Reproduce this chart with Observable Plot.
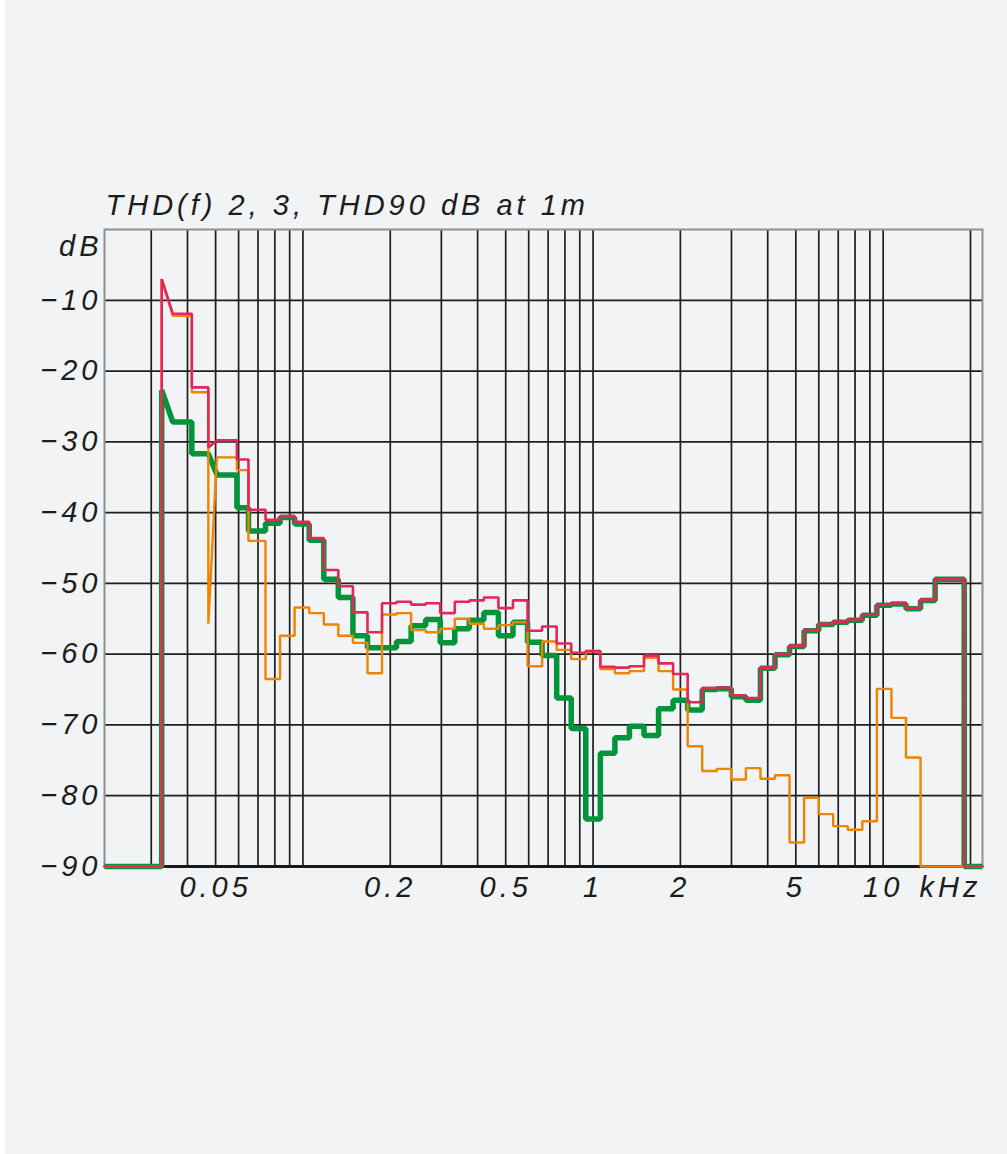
<!DOCTYPE html>
<html><head><meta charset="utf-8">
<script src="https://cdn.jsdelivr.net/npm/d3@7"></script>
<script src="https://cdn.jsdelivr.net/npm/@observablehq/plot@0.6"></script>
<style>
html,body{margin:0;padding:0;background:#ffffff;}
#chart{position:absolute;left:5px;top:0;width:1002px;height:1154px;background:#f2f3f5;overflow:hidden;}
</style></head><body><div id="chart"></div>
<script>
// band edges in kHz (1/6-octave above ~60 Hz, measured below)
const edges = [0.0326, 0.0356, 0.0414, 0.0472, 0.0505, 0.0592, 0.0649, 0.0743, 0.0834, 0.0936,
  0.1051, 0.1180, 0.1324, 0.1487, 0.1669, 0.1873, 0.2102, 0.2360, 0.2649, 0.2973,
  0.3337, 0.3746, 0.4204, 0.4719, 0.5297, 0.5946, 0.6674, 0.7492, 0.8409, 0.9439,
  1.0595, 1.1892, 1.3348, 1.4983, 1.6818, 1.8877, 2.1189, 2.3784, 2.6697, 2.9966,
  3.3636, 3.7755, 4.2379, 4.7568, 5.3394, 5.9932, 6.7272, 7.5510, 8.4757, 9.5137,
  10.679, 11.986, 13.454, 15.102, 16.951, 19.027];

// per-band levels in dB ([start, end] for sloped bands)
const redDb = [[-7.0, -11.9], -11.9, -22.3, [-30.8, -29.8], -29.8, -32.5, -39.6, -41.0, -40.5, -41.3,
  -43.6, -48.1, -50.4, -54.1, -56.9, -52.8, -52.6, -53.0, -52.8, -54.2,
  -52.6, -52.4, -52.0, -53.5, -52.4, -56.7, -56.1, -58.5, -59.8, -59.6,
  -61.8, -61.9, -61.7, -60.2, -61.3, -62.8, -66.8, -64.8, -64.7, -65.8,
  -66.2, -61.9, -60.0, -58.8, -56.6, -55.7, -55.4, -55.1, -54.4, -53.0,
  -52.8, -53.5, -52.3, -49.4, -49.4];

const orangeDb = [[-7.0, -12.2], -12.2, -23.0, [-55.7, -32.2], -32.2, -34.0, -44.0, -63.5, -57.4, -53.4,
  -54.2, -55.8, -57.4, -58.4, -62.7, -54.4, -54.2, -56.6, -56.9, -56.4,
  -55.0, -55.7, -56.4, -55.9, -55.5, -61.7, -58.2, -59.4, -60.7, -59.5,
  -62.1, -62.7, -62.4, -60.5, -62.4, -65.0, -73.0, -76.5, -76.2, -77.7,
  -76.1, -77.6, -77.1, -86.6, -80.3, -82.6, -84.3, -84.8, -83.6, -64.9,
  -69.0, -74.6, -90, -90, -90];

const greenDb = [[-22.7, -27.2], -27.2, -31.7, [-31.7, -34.6], -34.7, -39.3, -42.6, -41.5, -40.7, -41.6,
  -43.9, -49.4, -52.0, -57.4, -59.1, -59.1, -58.2, -56.0, -55.1, -58.4,
  -56.4, -55.2, -54.1, -57.4, -55.5, -58.3, -60.2, -66.2, -70.5, -83.3,
  -74.0, -71.8, -70.2, -71.5, -67.7, -66.5, -67.9, -65.0, -64.9, -66.0,
  -66.5, -62.0, -60.1, -58.9, -56.7, -55.8, -55.5, -55.2, -54.5, -53.1,
  -52.9, -53.6, -52.4, -49.4, -49.4];

const floorDb = -90;
const fMin = 0.0207, fMax = 22;

const gridF = [0.03, 0.04, 0.05, 0.06, 0.07, 0.08, 0.09, 0.1, 0.2, 0.3, 0.4, 0.5, 0.6, 0.7, 0.8, 0.9,
  1, 2, 3, 4, 5, 6, 7, 8, 9, 10, 20];
const gridDb = [-10, -20, -30, -40, -50, -60, -70, -80];
const yTicks = [-10, -20, -30, -40, -50, -60, -70, -80, -90];
const xTicks = [0.05, 0.2, 0.5, 1, 2, 5, 10];
const xTickText = ["0.05", "0.2", "0.5", "1", "2", "5", "10"];
const titleText = "THD(f) 2, 3, THD90 dB at 1m";

function vertices(levels) {
  const pts = [{f: fMin, db: floorDb}, {f: edges[0], db: floorDb}];
  levels.forEach((L, i) => {
    const a = Array.isArray(L) ? L[0] : L, b = Array.isArray(L) ? L[1] : L;
    pts.push({f: edges[i], db: a}, {f: edges[i + 1], db: b});
  });
  pts.push({f: edges[edges.length - 1], db: floorDb}, {f: fMax, db: floorDb});
  return pts;
}

const red = vertices(redDb), orange = vertices(orangeDb), green = vertices(greenDb);
const font = {fontFamily: "'Liberation Sans', Arial, sans-serif", fontStyle: "italic", fontSize: 29, fill: "#1c1c1c"};

const chart = Plot.plot({
  width: 1002, height: 1154,
  marginLeft: 99, marginRight: 25, marginTop: 229, marginBottom: 288,
  style: {background: "transparent", letterSpacing: "4px"},
  x: {type: "log", domain: [fMin, fMax], axis: null},
  y: {domain: [-90, 0], axis: null},
  marks: [
    Plot.ruleX(gridF, {x: d => d, stroke: "#1f1f1f", strokeWidth: 1.7}),
    Plot.ruleY(gridDb, {y: d => d, stroke: "#1f1f1f", strokeWidth: 1.7}),
    Plot.frame({stroke: "#8f8f8f", strokeWidth: 2}),
    Plot.ruleY([floorDb], {y: d => d, stroke: "#1a1a1a", strokeWidth: 3.2}),
    Plot.line(green, {x: "f", y: "db", stroke: "#00953a", strokeWidth: 5.5, strokeLinejoin: "miter", strokeLinecap: "butt"}),
    Plot.line(orange, {x: "f", y: "db", stroke: "#f08300", strokeWidth: 2.4, strokeLinejoin: "miter"}),
    Plot.line(red, {x: "f", y: "db", stroke: "#e5265a", strokeWidth: 2.6, strokeLinejoin: "miter"}),
    Plot.text(yTicks, {y: d => d, frameAnchor: "left", text: d => "\u2212" + Math.abs(d), textAnchor: "end", dx: -3, ...font}),
    Plot.text(xTicks, {x: d => d, frameAnchor: "bottom", text: (d, i) => xTickText[i], textAnchor: "middle", lineAnchor: "middle", dy: 21, ...font}),
    Plot.text(["kHz"], {frameAnchor: "bottom-right", textAnchor: "middle", lineAnchor: "middle", dy: 21, dx: -32, ...font}),
    Plot.text(["dB"], {frameAnchor: "top-left", textAnchor: "end", lineAnchor: "middle", dy: 17, dx: -2, ...font}),
    Plot.text([titleText], {frameAnchor: "top-left", textAnchor: "start", lineAnchor: "middle", dy: -24, dx: 1, ariaLabel: "title", ...font})
  ]
});
d3.select(chart).select('g[aria-label="title"]').style("letter-spacing", "3px").style("word-spacing", "3px");
document.getElementById("chart").appendChild(chart);
</script>
</body></html>
